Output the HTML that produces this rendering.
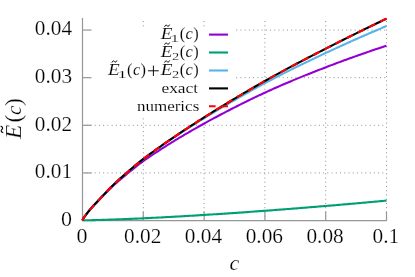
<!DOCTYPE html>
<html><head><meta charset="utf-8"><title>plot</title>
<style>html,body{margin:0;padding:0;background:#fff}svg{display:block}text{font-family:"Liberation Serif",serif;fill:#000;stroke:#fff;stroke-width:0.22px;paint-order:fill stroke}.lg text{stroke-width:0.12px}.lg text.sb{stroke-width:0.16px}.it{font-style:italic}</style></head><body>
<svg width="415" height="277" viewBox="0 0 415 277" style="will-change:transform">
<rect width="415" height="277" fill="#fff"/>
<g stroke="#8e8e8e" stroke-width="1" fill="none" stroke-dasharray="1 3.23">
<path d="M82.00 172.93H386.50"/>
<path d="M82.00 125.30H386.50"/>
<path d="M236.2 77.68H386.50"/>
<path d="M236.2 30.05H386.50"/>
<path d="M143.30 220.90V18.00"/>
<path d="M204.10 220.90V18.00"/>
<path d="M264.90 220.90V18.00"/>
<path d="M325.70 220.90V18.00"/>
<path d="M386.50 220.90V18.00"/>
</g>
<rect x="93" y="27.5" width="143" height="88.5" fill="#fff"/>
<g stroke="#969696" stroke-width="1.2" fill="none">
<path d="M82.50 18.00V220.55H386.50"/>
<path d="M82.50 172.93h9"/>
<path d="M82.50 125.30h9"/>
<path d="M82.50 77.68h9"/>
<path d="M82.50 30.05h9"/>
<path d="M143.30 220.55v-9"/>
<path d="M204.10 220.55v-9"/>
<path d="M264.90 220.55v-9"/>
<path d="M325.70 220.55v-9"/>
<path d="M386.50 220.55v-9"/>
</g>
<g fill="none" stroke-width="2.1" stroke-linejoin="round">
<path d="M82.50 220.30 L83.01 219.06 L83.51 218.20 L84.02 217.43 L84.53 216.69 L85.03 215.99 L85.54 215.31 L86.05 214.64 L86.55 213.98 L87.06 213.34 L87.57 212.69 L88.07 212.06 L88.58 211.43 L89.09 210.81 L89.59 210.21 L90.10 209.61 L90.61 209.03 L91.11 208.45 L91.62 207.89 L92.13 207.32 L92.63 206.77 L93.14 206.22 L93.65 205.67 L94.15 205.13 L94.66 204.60 L96.50 202.68 L98.33 200.77 L100.17 198.87 L102.00 196.96 L103.84 195.06 L105.67 193.18 L107.51 191.32 L109.34 189.49 L111.18 187.70 L113.01 185.98 L114.85 184.31 L116.69 182.66 L118.52 181.04 L120.36 179.45 L122.19 177.89 L124.03 176.34 L125.86 174.82 L127.70 173.31 L129.53 171.81 L131.37 170.32 L133.20 168.84 L135.04 167.38 L136.88 165.94 L138.71 164.52 L140.55 163.14 L142.38 161.80 L144.22 160.50 L146.05 159.22 L147.89 157.95 L149.72 156.70 L151.56 155.45 L153.40 154.22 L155.23 152.99 L157.07 151.78 L158.90 150.58 L160.74 149.39 L162.57 148.21 L164.41 147.03 L166.24 145.87 L168.08 144.72 L169.91 143.57 L171.75 142.43 L173.59 141.30 L175.42 140.18 L177.26 139.07 L179.09 137.97 L180.93 136.87 L182.76 135.78 L184.60 134.70 L186.43 133.62 L188.27 132.55 L190.10 131.49 L191.94 130.43 L193.78 129.39 L195.61 128.34 L197.45 127.30 L199.28 126.27 L201.12 125.24 L202.95 124.22 L204.79 123.21 L206.62 122.19 L208.46 121.19 L210.29 120.19 L212.13 119.19 L213.97 118.20 L215.80 117.21 L217.64 116.23 L219.47 115.26 L221.31 114.29 L223.14 113.32 L224.98 112.36 L226.81 111.40 L228.65 110.45 L230.48 109.50 L232.32 108.56 L234.16 107.63 L235.99 106.70 L237.83 105.77 L239.66 104.85 L241.50 103.93 L243.33 103.02 L245.17 102.11 L247.00 101.21 L248.84 100.31 L250.68 99.42 L252.51 98.53 L254.35 97.65 L256.18 96.78 L258.02 95.90 L259.85 95.04 L261.69 94.18 L263.52 93.32 L265.36 92.47 L267.19 91.63 L269.03 90.79 L270.87 89.96 L272.70 89.13 L274.54 88.31 L276.37 87.49 L278.21 86.69 L280.04 85.88 L281.88 85.08 L283.71 84.29 L285.55 83.50 L287.38 82.72 L289.22 81.94 L291.06 81.17 L292.89 80.40 L294.73 79.64 L296.56 78.88 L298.40 78.13 L300.23 77.38 L302.07 76.63 L303.90 75.89 L305.74 75.15 L307.57 74.42 L309.41 73.68 L311.25 72.96 L313.08 72.23 L314.92 71.51 L316.75 70.79 L318.59 70.08 L320.42 69.36 L322.26 68.65 L324.09 67.94 L325.93 67.24 L327.76 66.53 L329.60 65.83 L331.44 65.14 L333.27 64.44 L335.11 63.75 L336.94 63.06 L338.78 62.38 L340.61 61.70 L342.45 61.02 L344.28 60.35 L346.12 59.68 L347.96 59.01 L349.79 58.34 L351.63 57.68 L353.46 57.02 L355.30 56.37 L357.13 55.72 L358.97 55.07 L360.80 54.42 L362.64 53.78 L364.47 53.14 L366.31 52.50 L368.15 51.87 L369.98 51.24 L371.82 50.61 L373.65 49.98 L375.49 49.36 L377.32 48.74 L379.16 48.13 L380.99 47.51 L382.83 46.90 L384.66 46.29 L386.50 45.69" stroke="#9400d3"/>
<path d="M82.50 220.30 L83.01 220.30 L83.51 220.29 L84.02 220.29 L84.53 220.28 L85.03 220.28 L85.54 220.27 L86.05 220.26 L86.55 220.26 L87.06 220.25 L87.57 220.24 L88.07 220.23 L88.58 220.22 L89.09 220.21 L89.59 220.21 L90.10 220.20 L90.61 220.19 L91.11 220.18 L91.62 220.16 L92.13 220.15 L92.63 220.14 L93.14 220.13 L93.65 220.12 L94.15 220.11 L94.66 220.10 L96.50 220.05 L98.33 220.00 L100.17 219.95 L102.00 219.90 L103.84 219.85 L105.67 219.79 L107.51 219.73 L109.34 219.67 L111.18 219.61 L113.01 219.55 L114.85 219.48 L116.69 219.42 L118.52 219.35 L120.36 219.28 L122.19 219.21 L124.03 219.14 L125.86 219.06 L127.70 218.99 L129.53 218.91 L131.37 218.83 L133.20 218.75 L135.04 218.67 L136.88 218.59 L138.71 218.51 L140.55 218.43 L142.38 218.34 L144.22 218.26 L146.05 218.17 L147.89 218.08 L149.72 217.99 L151.56 217.90 L153.40 217.81 L155.23 217.72 L157.07 217.63 L158.90 217.53 L160.74 217.44 L162.57 217.34 L164.41 217.25 L166.24 217.15 L168.08 217.05 L169.91 216.95 L171.75 216.85 L173.59 216.75 L175.42 216.65 L177.26 216.54 L179.09 216.44 L180.93 216.34 L182.76 216.23 L184.60 216.12 L186.43 216.02 L188.27 215.91 L190.10 215.80 L191.94 215.69 L193.78 215.58 L195.61 215.47 L197.45 215.36 L199.28 215.25 L201.12 215.13 L202.95 215.02 L204.79 214.91 L206.62 214.79 L208.46 214.67 L210.29 214.56 L212.13 214.44 L213.97 214.32 L215.80 214.20 L217.64 214.08 L219.47 213.96 L221.31 213.84 L223.14 213.72 L224.98 213.60 L226.81 213.48 L228.65 213.35 L230.48 213.23 L232.32 213.10 L234.16 212.98 L235.99 212.85 L237.83 212.72 L239.66 212.60 L241.50 212.47 L243.33 212.34 L245.17 212.21 L247.00 212.08 L248.84 211.95 L250.68 211.82 L252.51 211.69 L254.35 211.55 L256.18 211.42 L258.02 211.29 L259.85 211.15 L261.69 211.02 L263.52 210.88 L265.36 210.75 L267.19 210.61 L269.03 210.47 L270.87 210.34 L272.70 210.20 L274.54 210.06 L276.37 209.92 L278.21 209.78 L280.04 209.64 L281.88 209.50 L283.71 209.36 L285.55 209.22 L287.38 209.07 L289.22 208.93 L291.06 208.79 L292.89 208.64 L294.73 208.50 L296.56 208.35 L298.40 208.21 L300.23 208.06 L302.07 207.91 L303.90 207.77 L305.74 207.62 L307.57 207.47 L309.41 207.32 L311.25 207.17 L313.08 207.02 L314.92 206.87 L316.75 206.72 L318.59 206.57 L320.42 206.42 L322.26 206.27 L324.09 206.11 L325.93 205.96 L327.76 205.81 L329.60 205.65 L331.44 205.50 L333.27 205.34 L335.11 205.19 L336.94 205.03 L338.78 204.87 L340.61 204.72 L342.45 204.56 L344.28 204.40 L346.12 204.24 L347.96 204.08 L349.79 203.92 L351.63 203.76 L353.46 203.60 L355.30 203.44 L357.13 203.28 L358.97 203.12 L360.80 202.96 L362.64 202.80 L364.47 202.63 L366.31 202.47 L368.15 202.31 L369.98 202.14 L371.82 201.98 L373.65 201.81 L375.49 201.64 L377.32 201.48 L379.16 201.31 L380.99 201.14 L382.83 200.98 L384.66 200.81 L386.50 200.64" stroke="#009e73"/>
<path d="M82.50 220.30 L83.01 219.06 L83.51 218.20 L84.02 217.41 L84.53 216.68 L85.03 215.97 L85.54 215.28 L86.05 214.61 L86.55 213.94 L87.06 213.28 L87.57 212.63 L88.07 211.99 L88.58 211.36 L89.09 210.73 L89.59 210.11 L90.10 209.51 L90.61 208.92 L91.11 208.33 L91.62 207.75 L92.13 207.18 L92.63 206.61 L93.14 206.05 L93.65 205.49 L94.15 204.94 L94.66 204.39 L96.50 202.43 L98.33 200.48 L100.17 198.52 L102.00 196.56 L103.84 194.61 L105.67 192.67 L107.51 190.75 L109.34 188.86 L111.18 187.01 L113.01 185.23 L114.85 183.49 L116.69 181.78 L118.52 180.09 L120.36 178.43 L122.19 176.80 L124.03 175.18 L125.86 173.58 L127.70 172.00 L129.53 170.43 L131.37 168.86 L133.20 167.30 L135.04 165.75 L136.88 164.23 L138.71 162.73 L140.55 161.27 L142.38 159.84 L144.22 158.46 L146.05 157.09 L147.89 155.73 L149.72 154.39 L151.56 153.05 L153.40 151.73 L155.23 150.41 L157.07 149.11 L158.90 147.81 L160.74 146.53 L162.57 145.25 L164.41 143.98 L166.24 142.72 L168.08 141.47 L169.91 140.22 L171.75 138.98 L173.59 137.75 L175.42 136.53 L177.26 135.32 L179.09 134.11 L180.93 132.91 L182.76 131.71 L184.60 130.52 L186.43 129.34 L188.27 128.16 L190.10 126.99 L191.94 125.83 L193.78 124.67 L195.61 123.51 L197.45 122.36 L199.28 121.22 L201.12 120.08 L202.95 118.94 L204.79 117.81 L206.62 116.68 L208.46 115.56 L210.29 114.44 L212.13 113.33 L213.97 112.22 L215.80 111.12 L217.64 110.02 L219.47 108.92 L221.31 107.83 L223.14 106.74 L224.98 105.66 L226.81 104.58 L228.65 103.50 L230.48 102.43 L232.32 101.37 L234.16 100.30 L235.99 99.25 L237.83 98.19 L239.66 97.14 L241.50 96.10 L243.33 95.06 L245.17 94.02 L247.00 92.99 L248.84 91.96 L250.68 90.94 L252.51 89.92 L254.35 88.91 L256.18 87.90 L258.02 86.89 L259.85 85.89 L261.69 84.90 L263.52 83.90 L265.36 82.92 L267.19 81.94 L269.03 80.96 L270.87 79.99 L272.70 79.03 L274.54 78.07 L276.37 77.12 L278.21 76.17 L280.04 75.22 L281.88 74.28 L283.71 73.35 L285.55 72.42 L287.38 71.50 L289.22 70.57 L291.06 69.66 L292.89 68.75 L294.73 67.84 L296.56 66.93 L298.40 66.03 L300.23 65.14 L302.07 64.25 L303.90 63.36 L305.74 62.47 L307.57 61.59 L309.41 60.71 L311.25 59.83 L313.08 58.96 L314.92 58.08 L316.75 57.21 L318.59 56.35 L320.42 55.48 L322.26 54.62 L324.09 53.76 L325.93 52.90 L327.76 52.04 L329.60 51.19 L331.44 50.33 L333.27 49.48 L335.11 48.64 L336.94 47.80 L338.78 46.95 L340.61 46.12 L342.45 45.28 L344.28 44.45 L346.12 43.62 L347.96 42.79 L349.79 41.97 L351.63 41.15 L353.46 40.33 L355.30 39.51 L357.13 38.70 L358.97 37.89 L360.80 37.08 L362.64 36.27 L364.47 35.47 L366.31 34.67 L368.15 33.87 L369.98 33.08 L371.82 32.28 L373.65 31.49 L375.49 30.71 L377.32 29.92 L379.16 29.14 L380.99 28.36 L382.83 27.58 L384.66 26.80 L386.50 26.03" stroke="#56b4e9"/>
<path d="M82.50 220.30 L83.01 219.06 L83.51 218.20 L84.02 217.41 L84.53 216.68 L85.03 215.97 L85.54 215.28 L86.05 214.61 L86.55 213.94 L87.06 213.28 L87.57 212.63 L88.07 211.99 L88.58 211.35 L89.09 210.73 L89.59 210.11 L90.10 209.51 L90.61 208.91 L91.11 208.33 L91.62 207.75 L92.13 207.18 L92.63 206.61 L93.14 206.05 L93.65 205.49 L94.15 204.94 L94.66 204.39 L96.50 202.42 L98.33 200.47 L100.17 198.51 L102.00 196.55 L103.84 194.60 L105.67 192.66 L107.51 190.73 L109.34 188.84 L111.18 186.99 L113.01 185.20 L114.85 183.46 L116.69 181.74 L118.52 180.05 L120.36 178.38 L122.19 176.74 L124.03 175.12 L125.86 173.51 L127.70 171.92 L129.53 170.34 L131.37 168.77 L133.20 167.20 L135.04 165.65 L136.88 164.11 L138.71 162.60 L140.55 161.13 L142.38 159.69 L144.22 158.30 L146.05 156.92 L147.89 155.55 L149.72 154.19 L151.56 152.84 L153.40 151.51 L155.23 150.18 L157.07 148.86 L158.90 147.55 L160.74 146.24 L162.57 144.95 L164.41 143.66 L166.24 142.38 L168.08 141.11 L169.91 139.85 L171.75 138.59 L173.59 137.35 L175.42 136.10 L177.26 134.87 L179.09 133.64 L180.93 132.41 L182.76 131.20 L184.60 129.98 L186.43 128.78 L188.27 127.58 L190.10 126.38 L191.94 125.19 L193.78 124.01 L195.61 122.82 L197.45 121.65 L199.28 120.48 L201.12 119.31 L202.95 118.14 L204.79 116.98 L206.62 115.82 L208.46 114.67 L210.29 113.52 L212.13 112.38 L213.97 111.23 L215.80 110.10 L217.64 108.96 L219.47 107.83 L221.31 106.70 L223.14 105.58 L224.98 104.46 L226.81 103.34 L228.65 102.23 L230.48 101.12 L232.32 100.02 L234.16 98.91 L235.99 97.81 L237.83 96.72 L239.66 95.63 L241.50 94.54 L243.33 93.46 L245.17 92.38 L247.00 91.30 L248.84 90.23 L250.68 89.16 L252.51 88.09 L254.35 87.03 L256.18 85.97 L258.02 84.92 L259.85 83.87 L261.69 82.82 L263.52 81.78 L265.36 80.74 L267.19 79.71 L269.03 78.68 L270.87 77.65 L272.70 76.63 L274.54 75.62 L276.37 74.61 L278.21 73.60 L280.04 72.60 L281.88 71.60 L283.71 70.61 L285.55 69.62 L287.38 68.63 L289.22 67.65 L291.06 66.67 L292.89 65.70 L294.73 64.72 L296.56 63.76 L298.40 62.79 L300.23 61.83 L302.07 60.87 L303.90 59.91 L305.74 58.95 L307.57 58.00 L309.41 57.05 L311.25 56.10 L313.08 55.16 L314.92 54.21 L316.75 53.27 L318.59 52.33 L320.42 51.38 L322.26 50.45 L324.09 49.51 L325.93 48.57 L327.76 47.63 L329.60 46.70 L331.44 45.77 L333.27 44.84 L335.11 43.91 L336.94 42.98 L338.78 42.06 L340.61 41.14 L342.45 40.22 L344.28 39.30 L346.12 38.38 L347.96 37.47 L349.79 36.55 L351.63 35.64 L353.46 34.73 L355.30 33.82 L357.13 32.92 L358.97 32.01 L360.80 31.11 L362.64 30.21 L364.47 29.31 L366.31 28.42 L368.15 27.52 L369.98 26.63 L371.82 25.73 L373.65 24.84 L375.49 23.95 L377.32 23.07 L379.16 22.18 L380.99 21.30 L382.83 20.41 L384.66 19.53 L386.50 18.65" stroke="#000"/>
<path d="M82.50 220.30 L83.01 219.06 L83.51 218.20 L84.02 217.41 L84.53 216.68 L85.03 215.97 L85.54 215.28 L86.05 214.61 L86.55 213.94 L87.06 213.28 L87.57 212.63 L88.07 211.99 L88.58 211.35 L89.09 210.73 L89.59 210.11 L90.10 209.51 L90.61 208.91 L91.11 208.33 L91.62 207.75 L92.13 207.18 L92.63 206.61 L93.14 206.05 L93.65 205.49 L94.15 204.94 L94.66 204.39 L96.50 202.42 L98.33 200.47 L100.17 198.51 L102.00 196.55 L103.84 194.60 L105.67 192.66 L107.51 190.73 L109.34 188.84 L111.18 186.99 L113.01 185.20 L114.85 183.46 L116.69 181.74 L118.52 180.05 L120.36 178.38 L122.19 176.74 L124.03 175.12 L125.86 173.51 L127.70 171.92 L129.53 170.34 L131.37 168.77 L133.20 167.20 L135.04 165.65 L136.88 164.11 L138.71 162.60 L140.55 161.13 L142.38 159.69 L144.22 158.30 L146.05 156.92 L147.89 155.55 L149.72 154.19 L151.56 152.84 L153.40 151.51 L155.23 150.18 L157.07 148.86 L158.90 147.55 L160.74 146.24 L162.57 144.95 L164.41 143.66 L166.24 142.38 L168.08 141.11 L169.91 139.85 L171.75 138.59 L173.59 137.35 L175.42 136.10 L177.26 134.87 L179.09 133.64 L180.93 132.41 L182.76 131.20 L184.60 129.98 L186.43 128.78 L188.27 127.58 L190.10 126.38 L191.94 125.19 L193.78 124.01 L195.61 122.82 L197.45 121.65 L199.28 120.48 L201.12 119.31 L202.95 118.14 L204.79 116.98 L206.62 115.82 L208.46 114.67 L210.29 113.52 L212.13 112.38 L213.97 111.23 L215.80 110.10 L217.64 108.96 L219.47 107.83 L221.31 106.70 L223.14 105.58 L224.98 104.46 L226.81 103.34 L228.65 102.23 L230.48 101.12 L232.32 100.02 L234.16 98.91 L235.99 97.81 L237.83 96.72 L239.66 95.63 L241.50 94.54 L243.33 93.46 L245.17 92.38 L247.00 91.30 L248.84 90.23 L250.68 89.16 L252.51 88.09 L254.35 87.03 L256.18 85.97 L258.02 84.92 L259.85 83.87 L261.69 82.82 L263.52 81.78 L265.36 80.74 L267.19 79.71 L269.03 78.68 L270.87 77.65 L272.70 76.63 L274.54 75.62 L276.37 74.61 L278.21 73.60 L280.04 72.60 L281.88 71.60 L283.71 70.61 L285.55 69.62 L287.38 68.63 L289.22 67.65 L291.06 66.67 L292.89 65.70 L294.73 64.72 L296.56 63.76 L298.40 62.79 L300.23 61.83 L302.07 60.87 L303.90 59.91 L305.74 58.95 L307.57 58.00 L309.41 57.05 L311.25 56.10 L313.08 55.16 L314.92 54.21 L316.75 53.27 L318.59 52.33 L320.42 51.38 L322.26 50.45 L324.09 49.51 L325.93 48.57 L327.76 47.63 L329.60 46.70 L331.44 45.77 L333.27 44.84 L335.11 43.91 L336.94 42.98 L338.78 42.06 L340.61 41.14 L342.45 40.22 L344.28 39.30 L346.12 38.38 L347.96 37.47 L349.79 36.55 L351.63 35.64 L353.46 34.73 L355.30 33.82 L357.13 32.92 L358.97 32.01 L360.80 31.11 L362.64 30.21 L364.47 29.31 L366.31 28.42 L368.15 27.52 L369.98 26.63 L371.82 25.73 L373.65 24.84 L375.49 23.95 L377.32 23.07 L379.16 22.18 L380.99 21.30 L382.83 20.41 L384.66 19.53 L386.50 18.65" stroke="#ff0000" stroke-dasharray="7.0 5.447"/>
<path d="M209 34.6H228" stroke="#9400d3"/>
<path d="M209 52.5H228" stroke="#009e73"/>
<path d="M209 70.5H228" stroke="#56b4e9"/>
<path d="M209 88.4H228" stroke="#000"/>
<path d="M209 106.3H228" stroke="#ff0000" stroke-dasharray="6.6 6"/>
</g>
<g font-size="22" text-anchor="end">
<text x="72.1" y="225.75">0</text>
<text x="72.1" y="178.12" textLength="37.3" lengthAdjust="spacingAndGlyphs">0.01</text>
<text x="72.1" y="130.50" textLength="37.3" lengthAdjust="spacingAndGlyphs">0.02</text>
<text x="72.1" y="82.88" textLength="37.3" lengthAdjust="spacingAndGlyphs">0.03</text>
<text x="72.1" y="35.25" textLength="37.3" lengthAdjust="spacingAndGlyphs">0.04</text>
</g>
<g font-size="22" text-anchor="middle">
<text x="81.90" y="242.9">0</text>
<text x="142.70" y="242.9" textLength="37.3" lengthAdjust="spacingAndGlyphs">0.02</text>
<text x="203.50" y="242.9" textLength="37.3" lengthAdjust="spacingAndGlyphs">0.04</text>
<text x="264.30" y="242.9" textLength="37.3" lengthAdjust="spacingAndGlyphs">0.06</text>
<text x="325.10" y="242.9" textLength="37.3" lengthAdjust="spacingAndGlyphs">0.08</text>
<text x="385.90" y="242.9" textLength="26.7" lengthAdjust="spacingAndGlyphs">0.1</text>
</g>
<text class="it" x="234.4" y="269.6" font-size="22" text-anchor="middle">c</text>
<g transform="translate(21.1,139.4) rotate(-90)">
<text class="it" x="0.3" y="0" font-size="23.5">E</text>
<path d="M6.80 -18.30C7.95 -20.73 9.23 -20.01 10.00 -19.20S12.05 -17.67 13.20 -20.10" fill="none" stroke="#000" stroke-width="1.1" stroke-linecap="round"/>
<text x="16.9" y="0" font-size="23.5">(</text>
<text class="it" x="24.4" y="0" font-size="21.5">c</text>
<text x="33.4" y="0" font-size="23.5">)</text>
</g>
<g class="lg">
<text x="193.20" y="39.2" font-size="16.4">)</text><text class="it" x="185.60" y="39.2" font-size="16.4">c</text><text x="179.80" y="39.2" font-size="16.4">(</text><text x="170.10" y="41.70" class="sb" font-size="11" textLength="9.4" lengthAdjust="spacingAndGlyphs">1</text><text class="it" x="160.70" y="39.2" font-size="16.4" textLength="11.7" lengthAdjust="spacingAndGlyphs">E</text><path d="M164.70 26.40C165.56 24.51 166.52 25.07 167.10 25.70S168.64 26.89 169.50 25.00" fill="none" stroke="#000" stroke-width="1.0" stroke-linecap="round"/>
<text x="193.20" y="57.1" font-size="16.4">)</text><text class="it" x="185.60" y="57.1" font-size="16.4">c</text><text x="179.80" y="57.1" font-size="16.4">(</text><text x="171.90" y="59.60" class="sb" font-size="11" textLength="7.2" lengthAdjust="spacingAndGlyphs">2</text><text class="it" x="160.70" y="57.1" font-size="16.4" textLength="11.7" lengthAdjust="spacingAndGlyphs">E</text><path d="M164.70 44.30C165.56 42.41 166.52 42.97 167.10 43.60S168.64 44.79 169.50 42.90" fill="none" stroke="#000" stroke-width="1.0" stroke-linecap="round"/>
<text x="193.20" y="75.0" font-size="16.4">)</text><text class="it" x="185.60" y="75.0" font-size="16.4">c</text><text x="179.80" y="75.0" font-size="16.4">(</text><text x="171.90" y="77.50" class="sb" font-size="11" textLength="7.2" lengthAdjust="spacingAndGlyphs">2</text><text class="it" x="160.70" y="75.0" font-size="16.4" textLength="11.7" lengthAdjust="spacingAndGlyphs">E</text><path d="M164.70 62.20C165.56 60.31 166.52 60.87 167.10 61.50S168.64 62.69 169.50 60.80" fill="none" stroke="#000" stroke-width="1.0" stroke-linecap="round"/>
<path d="M148 70.8H158.8M153.4 65.6V76" stroke="#000" stroke-width="0.95" fill="none"/>
<text x="140.50" y="75.0" font-size="16.4">)</text><text class="it" x="132.90" y="75.0" font-size="16.4">c</text><text x="127.10" y="75.0" font-size="16.4">(</text><text x="117.40" y="77.50" class="sb" font-size="11" textLength="9.4" lengthAdjust="spacingAndGlyphs">1</text><text class="it" x="108.00" y="75.0" font-size="16.4" textLength="11.7" lengthAdjust="spacingAndGlyphs">E</text><path d="M112.00 62.20C112.86 60.31 113.82 60.87 114.40 61.50S115.94 62.69 116.80 60.80" fill="none" stroke="#000" stroke-width="1.0" stroke-linecap="round"/>
<text x="161.4" y="92.9" font-size="15.4" textLength="36.8" lengthAdjust="spacingAndGlyphs">exact</text>
<text x="136.9" y="110.8" font-size="15.4" textLength="62.4" lengthAdjust="spacingAndGlyphs">numerics</text>
</g>
</svg></body></html>
